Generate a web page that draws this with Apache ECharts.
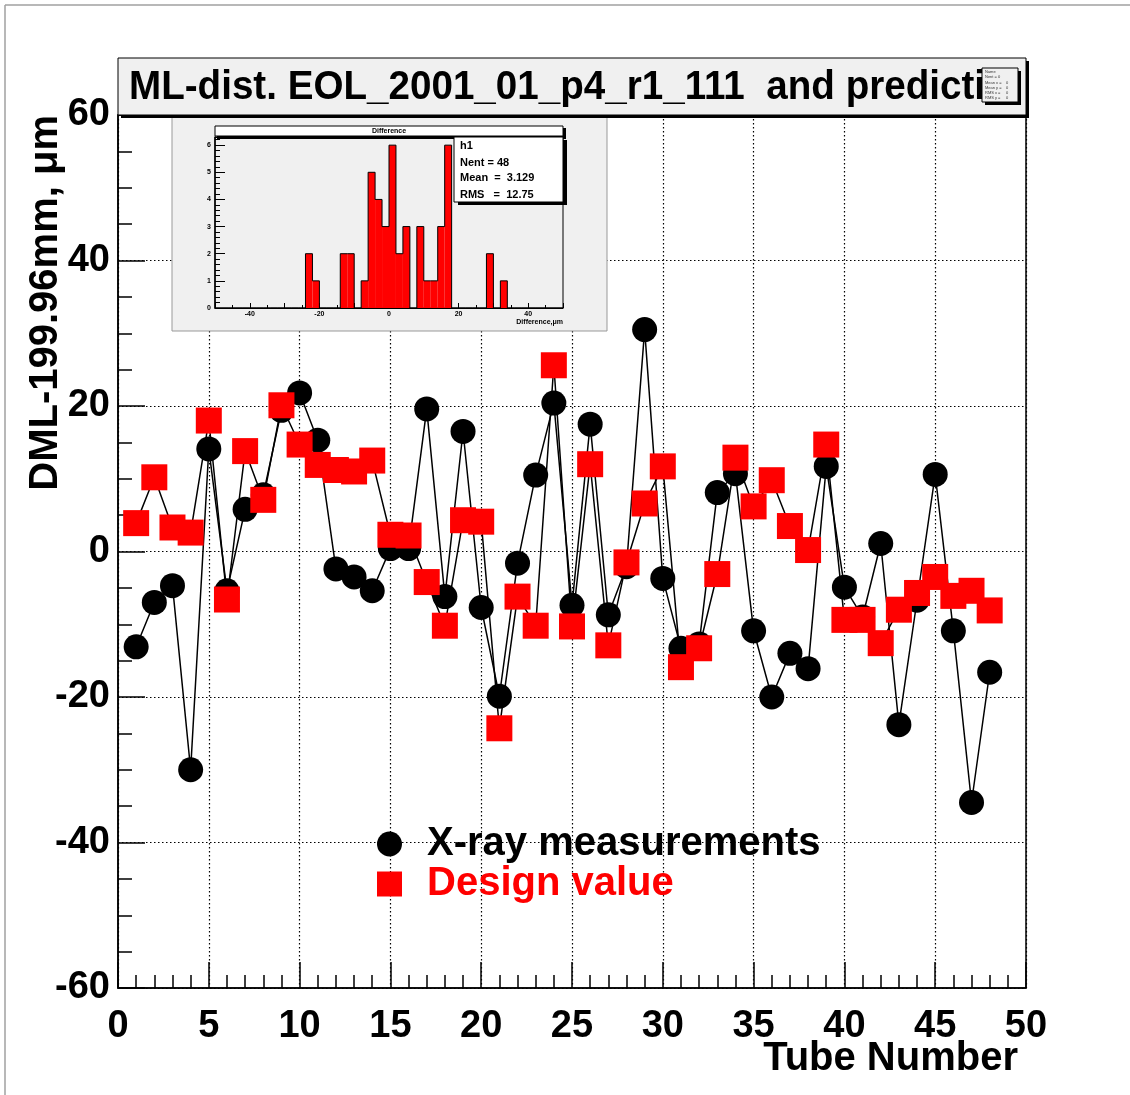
<!DOCTYPE html>
<html>
<head>
<meta charset="utf-8">
<script src="https://cdn.jsdelivr.net/npm/echarts@6/dist/echarts.min.js"></script>
<style>
  html, body { margin: 0; padding: 0; background: #ffffff; }
  #chart { width: 1130px; height: 1095px; }
</style>
</head>
<body>
<div id="chart"></div>
<script>
// Tube index along the multilayer
const tubeNumbers = [1, 2, 3, 4, 5, 6, 7, 8, 9, 10, 11, 12, 13, 14, 15, 16,
  17, 18, 19, 20, 21, 22, 23, 24, 25, 26, 27, 28, 29, 30, 31, 32,
  33, 34, 35, 36, 37, 38, 39, 40, 41, 42, 43, 44, 45, 46, 47, 48];

// DML - 199.96 mm in micrometres, from the X-ray scan
const xrayMeasured = [-13.1, -7.0, -4.7, -30.0, 14.1, -5.4, 5.8, 7.8, 19.4, 21.8, 15.3, -2.4,
  -3.5, -5.4, 0.4, 0.4, 19.6, -6.2, 16.5, -7.7, -19.9, -1.6, 10.5, 20.4,
  -7.4, 17.5, -8.7, -2.1, 30.5, -3.7, -13.3, -12.7, 8.1, 10.7, -10.9, -20.0,
  -14.0, -16.1, 11.7, -4.9, -9.0, 1.1, -23.8, -6.7, 10.6, -10.9, -34.5, -16.6];

// DML - 199.96 mm in micrometres, design prediction
const designValue = [3.9, 10.2, 3.3, 2.6, 18.0, -6.6, 13.8, 7.1, 20.1, 14.7, 11.9, 11.2,
  11.0, 12.5, 2.3, 2.2, -4.2, -10.2, 4.3, 4.1, -24.3, -6.2, -10.2, 25.6,
  -10.3, 12.0, -12.9, -1.5, 6.6, 11.7, -15.9, -13.3, -3.1, 12.9, 6.2, 9.8,
  3.5, 0.2, 14.7, -9.4, -9.4, -12.6, -8.0, -5.7, -3.5, -6.1, -5.4, -8.1];

// Histogram of the differences (design - measured), 2 um bins from -50 to 50
const diffRange = [-50, 50];
const diffBinWidth = 2;
const diffCounts = [0, 0, 0, 0, 0, 0, 0, 0, 0, 0, 0, 0, 0,
  2, 1, 0, 0, 0, 2, 2, 0, 1, 5, 4, 3, 6, 2, 3, 0, 3, 1, 1, 3, 6,
  0, 0, 0, 0, 0, 2, 0, 1, 0, 0, 0, 0, 0, 0, 0, 0];
const diffStats = { name: 'h1', entries: '48', mean: '3.129', rms: '12.75' };

// Axis ranges and tick spacing
const mainXRange = [0, 50], mainXStep = 5;
const mainYRange = [-60, 60], mainYStep = 20;
const histYMax = 6.3;

const FONT = '"Liberation Sans", Arial, Helvetica, sans-serif';
const RED = '#ff0000';

const histBins = diffCounts.map((c, i) => {
  const lo = diffRange[0] + i * diffBinWidth;
  return [lo, lo + diffBinWidth, c];
});
const histOutline = [];
histBins.forEach(b => { histOutline.push([b[0], b[2]]); histOutline.push([b[1], b[2]]); });

const chart = echarts.init(document.getElementById('chart'), null, { renderer: 'canvas' });

const boldLabel = (size) => ({ fontFamily: FONT, fontWeight: 'bold', fontSize: size, color: '#000' });

const option = {
  animation: false,
  backgroundColor: '#ffffff',
  grid: [
    { left: 118, top: 115, width: 908, height: 873, show: true, borderColor: '#000', borderWidth: 1.5, backgroundColor: 'transparent' },
    { left: 215, top: 137, width: 348, height: 171, show: true, borderColor: '#000', borderWidth: 1, backgroundColor: 'transparent', z: 3 }
  ],
  xAxis: [
    {
      gridIndex: 0, type: 'value', min: mainXRange[0], max: mainXRange[1], interval: mainXStep,
      axisLine: { show: true, onZero: false, lineStyle: { color: '#000', width: 1.5 } },
      axisTick: { show: true, inside: true, length: 26, lineStyle: { color: '#000', width: 1.5 } },
      minorTick: { show: true, splitNumber: 5, length: 13, lineStyle: { color: '#000', width: 1.5 } },
      splitLine: { show: true, lineStyle: { color: '#000', width: 1.2, type: [1.5, 2.5] } },
      axisLabel: Object.assign(boldLabel(38), { margin: 20, showMinLabel: true, showMaxLabel: true })
    },
    {
      gridIndex: 1, type: 'value', min: diffRange[0], max: diffRange[1], interval: 10, z: 3,
      axisLine: { show: true, onZero: false, lineStyle: { color: '#000', width: 1.2 } },
      axisTick: { show: true, inside: true, length: 5, lineStyle: { color: '#000', width: 1 } },
      minorTick: { show: true, splitNumber: 2, length: 3, lineStyle: { color: '#000', width: 1 } },
      splitLine: { show: false },
      axisLabel: Object.assign(boldLabel(7), {
        margin: 3,
        formatter: v => (v % 20 === 0 && Math.abs(v) < 50 ? String(v) : '')
      })
    }
  ],
  yAxis: [
    {
      gridIndex: 0, type: 'value', min: mainYRange[0], max: mainYRange[1], interval: mainYStep,
      axisLine: { show: true, onZero: false, lineStyle: { color: '#000', width: 1.5 } },
      axisTick: { show: true, inside: true, length: 27, lineStyle: { color: '#000', width: 1.5 } },
      minorTick: { show: true, splitNumber: 4, length: 14, lineStyle: { color: '#000', width: 1.5 } },
      splitLine: { show: true, lineStyle: { color: '#000', width: 1.2, type: [1.5, 2.5] } },
      axisLabel: Object.assign(boldLabel(38), { margin: 8, showMinLabel: true, showMaxLabel: true })
    },
    {
      gridIndex: 1, type: 'value', min: 0, max: histYMax, interval: 1, z: 3,
      axisLine: { show: true, onZero: false, lineStyle: { color: '#000', width: 1.5 } },
      axisTick: { show: true, inside: true, length: 10, lineStyle: { color: '#000', width: 1 } },
      minorTick: { show: true, splitNumber: 5, length: 5, lineStyle: { color: '#000', width: 1 } },
      splitLine: { show: false },
      axisLabel: Object.assign(boldLabel(7), {
        margin: 4,
        formatter: v => (Number.isInteger(v) ? String(v) : '')
      })
    }
  ],
  legend: {
    orient: 'vertical', left: 377, top: 824, padding: 0, itemGap: 0,
    itemWidth: 25, itemHeight: 25, selectedMode: false,
    textStyle: { fontFamily: FONT, fontWeight: 'bold', fontSize: 40, lineHeight: 37, padding: [0, 0, 0, 20] },
    data: [
      { name: 'X-ray measurements', icon: 'circle', textStyle: { color: '#000' } },
      { name: 'Design value', icon: 'rect', textStyle: { color: RED } }
    ]
  },
  series: [
    {
      name: 'X-ray measurements', type: 'line', xAxisIndex: 0, yAxisIndex: 0, z: 2,
      data: tubeNumbers.map((t, i) => [t, xrayMeasured[i]]),
      symbol: 'circle', symbolSize: 25, showAllSymbol: true,
      itemStyle: { color: '#000', opacity: 1 },
      lineStyle: { color: '#000', width: 1.5 },
      emphasis: { disabled: true }
    },
    {
      name: 'Design value', type: 'line', xAxisIndex: 0, yAxisIndex: 0, z: 2,
      data: tubeNumbers.map((t, i) => [t, designValue[i]]),
      symbol: 'rect', symbolSize: 26, showAllSymbol: true,
      itemStyle: { color: RED, opacity: 1 },
      lineStyle: { color: '#000', width: 1.5 },
      emphasis: { disabled: true }
    },
    {
      name: 'Difference', type: 'custom', xAxisIndex: 1, yAxisIndex: 1, z: 4,
      data: histBins,
      encode: { x: [0, 1], y: 2 },
      renderItem: (params, api) => {
        const top = api.coord([api.value(0), api.value(2)]);
        const base = api.coord([api.value(1), 0]);
        return {
          type: 'rect',
          shape: { x: top[0], y: top[1], width: base[0] - top[0], height: base[1] - top[1] },
          style: { fill: RED }
        };
      },
      silent: true
    },
    {
      name: 'Difference outline', type: 'line', xAxisIndex: 1, yAxisIndex: 1, z: 5,
      data: histOutline, symbol: 'none',
      lineStyle: { color: '#000', width: 1 },
      silent: true
    }
  ],
  graphic: {
    elements: [
      // canvas frame
      { type: 'line', z: 20, shape: { x1: 5, y1: 5, x2: 1130, y2: 5 }, style: { stroke: '#a0a0a0', lineWidth: 1.5 } },
      { type: 'line', z: 20, shape: { x1: 5, y1: 5, x2: 5, y2: 1095 }, style: { stroke: '#a0a0a0', lineWidth: 1.5 } },

      // inset pad
      { type: 'rect', z: 1, shape: { x: 172, y: 117, width: 435, height: 214 }, style: { fill: '#f0f0f0', stroke: '#999999', lineWidth: 1 } },

      // inset histogram title
      { type: 'rect', z: 6, shape: { x: 217, y: 128, width: 349, height: 11 }, style: { fill: '#000' } },
      { type: 'rect', z: 7, shape: { x: 215, y: 126, width: 348, height: 10 }, style: { fill: '#ffffff', stroke: '#000', lineWidth: 1 } },
      { type: 'text', z: 8, style: { text: 'Difference', x: 389, y: 131, align: 'center', verticalAlign: 'middle', fill: '#000', fontFamily: FONT, fontWeight: 'bold', fontSize: 7 } },

      // inset statistics box
      { type: 'rect', z: 8, shape: { x: 458, y: 140, width: 109, height: 65 }, style: { fill: '#000' } },
      { type: 'rect', z: 9, shape: { x: 454, y: 137, width: 109, height: 65 }, style: { fill: '#ffffff', stroke: '#000', lineWidth: 1 } },
      { type: 'text', z: 10, style: { text: diffStats.name, x: 460, y: 146, verticalAlign: 'middle', fill: '#000', fontFamily: FONT, fontWeight: 'bold', fontSize: 11 } },
      { type: 'text', z: 10, style: { text: 'Nent = ' + diffStats.entries, x: 460, y: 163, verticalAlign: 'middle', fill: '#000', fontFamily: FONT, fontWeight: 'bold', fontSize: 11 } },
      { type: 'text', z: 10, style: { text: 'Mean  =  ' + diffStats.mean, x: 460, y: 178, verticalAlign: 'middle', fill: '#000', fontFamily: FONT, fontWeight: 'bold', fontSize: 11 } },
      { type: 'text', z: 10, style: { text: 'RMS   =  ' + diffStats.rms, x: 460, y: 195, verticalAlign: 'middle', fill: '#000', fontFamily: FONT, fontWeight: 'bold', fontSize: 11 } },

      // inset x-axis title
      { type: 'text', z: 10, style: { text: 'Difference,\u03bcm', x: 563, y: 322, align: 'right', verticalAlign: 'middle', fill: '#000', fontFamily: FONT, fontWeight: 'bold', fontSize: 7 } },

      // main title box
      { type: 'rect', z: 10, shape: { x: 121, y: 61, width: 908, height: 57 }, style: { fill: '#000' } },
      { type: 'rect', z: 11, shape: { x: 118, y: 58, width: 908, height: 57 }, style: { fill: '#f0f0f0', stroke: '#000', lineWidth: 1 } },
      { type: 'text', z: 12, x: 129, y: 88, scaleX: 0.965, style: {
          text: 'ML-dist. EOL_2001_01_p4_r1_111  and prediction', x: 0, y: 0,
          verticalAlign: 'middle', fill: '#000', fontFamily: FONT, fontWeight: 'bold', fontSize: 40,
          width: 910, overflow: 'truncate', ellipsis: '' } },

      // empty statistics box in the title bar
      { type: 'rect', z: 13, shape: { x: 985, y: 71, width: 36, height: 34 }, style: { fill: '#000' } },
      { type: 'rect', z: 14, shape: { x: 982, y: 68, width: 36, height: 34 }, style: { fill: '#f0f0f0', stroke: '#000', lineWidth: 1 } },
      { type: 'text', z: 15, style: { text: 'Name', x: 985, y: 72, verticalAlign: 'middle', fill: '#333', fontFamily: FONT, fontSize: 4 } },
      { type: 'text', z: 15, style: { text: 'Nent = 0', x: 985, y: 77, verticalAlign: 'middle', fill: '#333', fontFamily: FONT, fontSize: 4 } },
      { type: 'text', z: 15, style: { text: 'Mean x =    0', x: 985, y: 83, verticalAlign: 'middle', fill: '#333', fontFamily: FONT, fontSize: 4 } },
      { type: 'text', z: 15, style: { text: 'Mean y =    0', x: 985, y: 88, verticalAlign: 'middle', fill: '#333', fontFamily: FONT, fontSize: 4 } },
      { type: 'text', z: 15, style: { text: 'RMS x =     0', x: 985, y: 93, verticalAlign: 'middle', fill: '#333', fontFamily: FONT, fontSize: 4 } },
      { type: 'text', z: 15, style: { text: 'RMS y =     0', x: 985, y: 98, verticalAlign: 'middle', fill: '#333', fontFamily: FONT, fontSize: 4 } },

      // main axis titles
      { type: 'text', z: 12, x: 46, y: 115, rotation: Math.PI / 2, style: {
          text: 'DML-199.96mm, \u03bcm', x: 0, y: 0, align: 'right', verticalAlign: 'middle',
          fill: '#000', fontFamily: FONT, fontWeight: 'bold', fontSize: 40 } },
      { type: 'text', z: 12, style: {
          text: 'Tube Number', x: 1018, y: 1059, align: 'right', verticalAlign: 'middle',
          fill: '#000', fontFamily: FONT, fontWeight: 'bold', fontSize: 40 } }
    ]
  }
};

chart.setOption(option);
</script>
</body>
</html>
